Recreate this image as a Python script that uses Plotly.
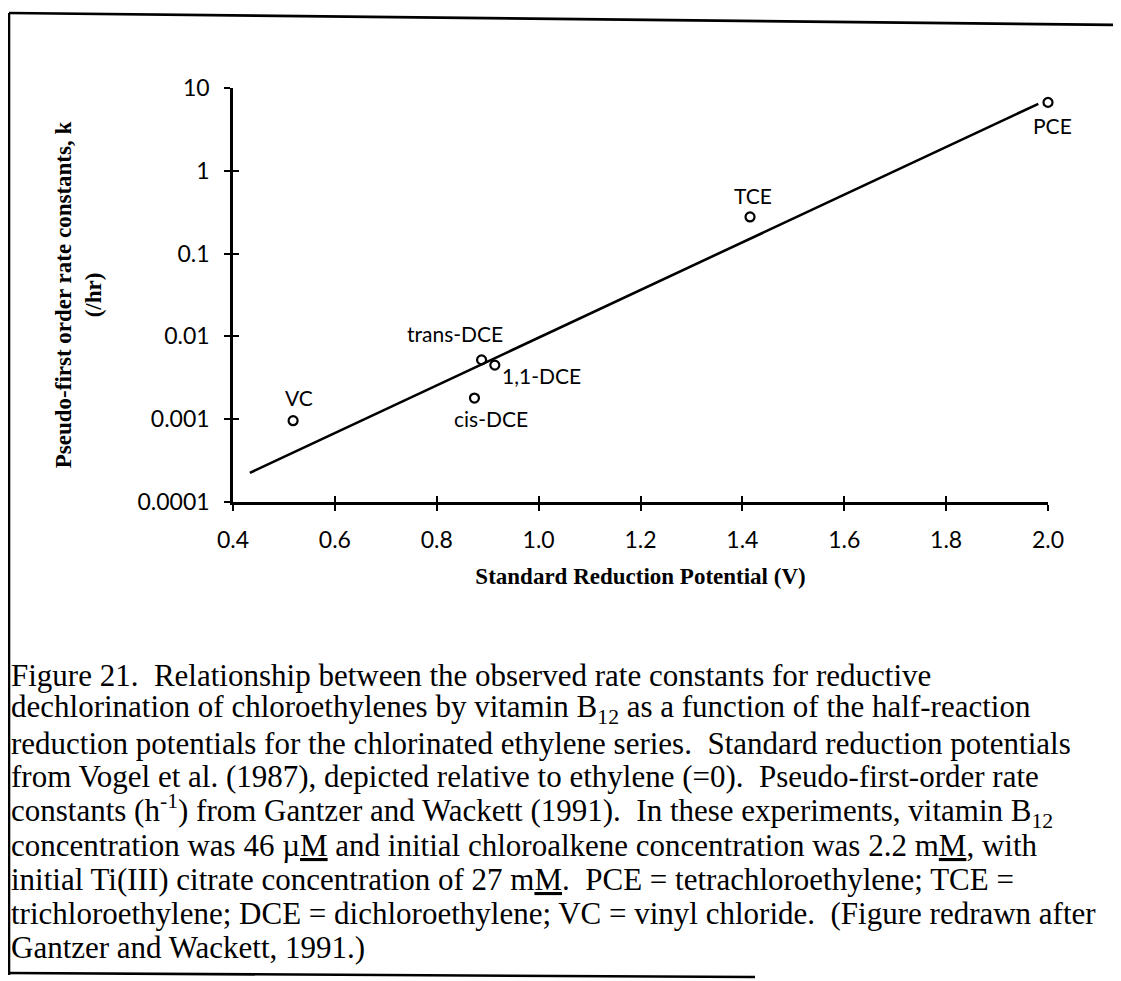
import math
import plotly.graph_objects as go

# data
compounds = ['PCE', 'TCE', 'trans-DCE', '1,1-DCE', 'cis-DCE', 'VC']
potential = [2.0, 1.415, 0.888, 0.914, 0.874, 0.518]
rate_k = [6.7, 0.277, 0.0052, 0.0045, 0.0018, 0.00096]

# fitted line end points
fit_x = [0.433, 1.981]
fit_y = [0.000225, 6.44]

x_ticks = [0.4, 0.6, 0.8, 1.0, 1.2, 1.4, 1.6, 1.8, 2.0]
x_ticktext = ['0.4', '0.6', '0.8', '1.0', '1.2', '1.4', '1.6', '1.8', '2.0']
y_ticks = [0.0001, 0.001, 0.01, 0.1, 1, 10]
y_ticktext = ['0.0001', '0.001', '0.01', '0.1', '1', '10']

caption = [
    'Figure 21.  Relationship between the observed rate constants for reductive',
    'dechlorination of chloroethylenes by vitamin B<sub>12</sub> as a function of the half-reaction',
    'reduction potentials for the chlorinated ethylene series.  Standard reduction potentials',
    'from Vogel et al. (1987), depicted relative to ethylene (=0).  Pseudo-first-order rate',
    'constants (h<sup>-1</sup>) from Gantzer and Wackett (1991).  In these experiments, vitamin B<sub>12</sub>',
    'concentration was 46 \u00b5<u>M</u> and initial chloroalkene concentration was 2.2 m<u>M</u>, with',
    'initial Ti(III) citrate concentration of 27 m<u>M</u>.  PCE = tetrachloroethylene; TCE =',
    'trichloroethylene; DCE = dichloroethylene; VC = vinyl chloride.  (Figure redrawn after',
    'Gantzer and Wackett, 1991.)',
]

# label offsets in px (x, y-up)
label_shift = [(4, -23), (3, 21), (-27, 26), (47, -10), (17, -20), (6, 23)]

# page body has an 8px margin, positions below are page pixels
OFF = 8
W, H = 1121, 981
L, T = 233 - OFF, 88 - OFF
R, B = W - (1048 - OFF), H - (502 - OFF)
PW, PH = W - L - R, H - T - B


def px(x):
    return (x - OFF - L) / PW


def py(y):
    return (H - B - (y - OFF)) / PH


tick_font = dict(family='Lato', size=23, color='black')
title_font = dict(family='Liberation Serif', size=23, color='black')

fig = go.Figure()

fig.add_trace(go.Scatter(
    x=fit_x, y=fit_y, mode='lines',
    line=dict(color='black', width=2.6),
    cliponaxis=False, showlegend=False, hoverinfo='skip'))

fig.add_trace(go.Scatter(
    x=potential, y=rate_k, mode='markers',
    marker=dict(symbol='circle-open', size=9, color='black', line=dict(width=2.2)),
    text=compounds, cliponaxis=False, showlegend=False))

# invisible trace for the overlay axes (inner half of the tick marks)
fig.add_trace(go.Scatter(
    x=[x_ticks[0]], y=[y_ticks[0]], xaxis='x2', yaxis='y2',
    mode='markers', marker=dict(opacity=0), showlegend=False, hoverinfo='skip'))

for name, xv, yv, (dx, dy) in zip(compounds, potential, rate_k, label_shift):
    fig.add_annotation(
        x=xv, y=math.log10(yv), xref='x', yref='y', text=name, showarrow=False,
        xshift=dx, yshift=dy, xanchor='center', yanchor='middle',
        font=dict(family='Lato', size=21, color='black'))

y0 = 675
for i, line in enumerate(caption):
    fig.add_annotation(
        x=px(9), y=py(y0 + i * 34), xref='paper', yref='paper',
        text=line, showarrow=False, xanchor='left', yanchor='middle',
        font=dict(family='Liberation Serif', size=31, color='black'))

# scanned frame round the figure
frame = dict(color='black', width=2.6)
fig.add_shape(type='line', xref='paper', yref='paper',
              x0=px(9), y0=py(13), x1=px(1125), y1=py(25), line=frame)
fig.add_shape(type='line', xref='paper', yref='paper',
              x0=px(9), y0=py(13), x1=px(9), y1=py(975), line=frame)
fig.add_shape(type='line', xref='paper', yref='paper',
              x0=px(8), y0=py(973), x1=px(755), y1=py(977), line=frame)

fig.update_layout(
    width=W, height=H,
    margin=dict(l=L, r=R, t=T, b=B),
    plot_bgcolor='white', paper_bgcolor='white',
    font=dict(family='Lato', color='black'),
    xaxis=dict(
        range=[0.4, 2.0], tickvals=x_ticks, ticktext=x_ticktext,
        showgrid=False, zeroline=False, showline=True, linecolor='black', linewidth=2.6,
        ticks='outside', ticklen=6, tickwidth=2, tickcolor='black',
        tickfont=tick_font, ticklabelstandoff=10,
        title=dict(text='<b>Standard Reduction Potential (V)</b>', font=title_font, standoff=16)),
    yaxis=dict(
        type='log', range=[-4, 1], tickvals=y_ticks, ticktext=y_ticktext,
        showgrid=False, zeroline=False, showline=True, linecolor='black', linewidth=2.6,
        ticks='outside', ticklen=6, tickwidth=2, tickcolor='black',
        tickfont=tick_font, ticklabelstandoff=10,
        title=dict(text='<b>Pseudo-first order rate constants, k<br>(/hr)</b>',
                   font=title_font, standoff=30)),
    xaxis2=dict(
        overlaying='x', anchor='y2', range=[0.4, 2.0], tickvals=x_ticks,
        showticklabels=False, showgrid=False, zeroline=False, showline=False,
        ticks='inside', ticklen=6, tickwidth=2, tickcolor='black'),
    yaxis2=dict(
        overlaying='y', anchor='x2', type='log', range=[-4, 1], tickvals=y_ticks,
        showticklabels=False, showgrid=False, zeroline=False, showline=False,
        ticks='inside', ticklen=6, tickwidth=2, tickcolor='black'),
)

fig.write_html('out.html')
